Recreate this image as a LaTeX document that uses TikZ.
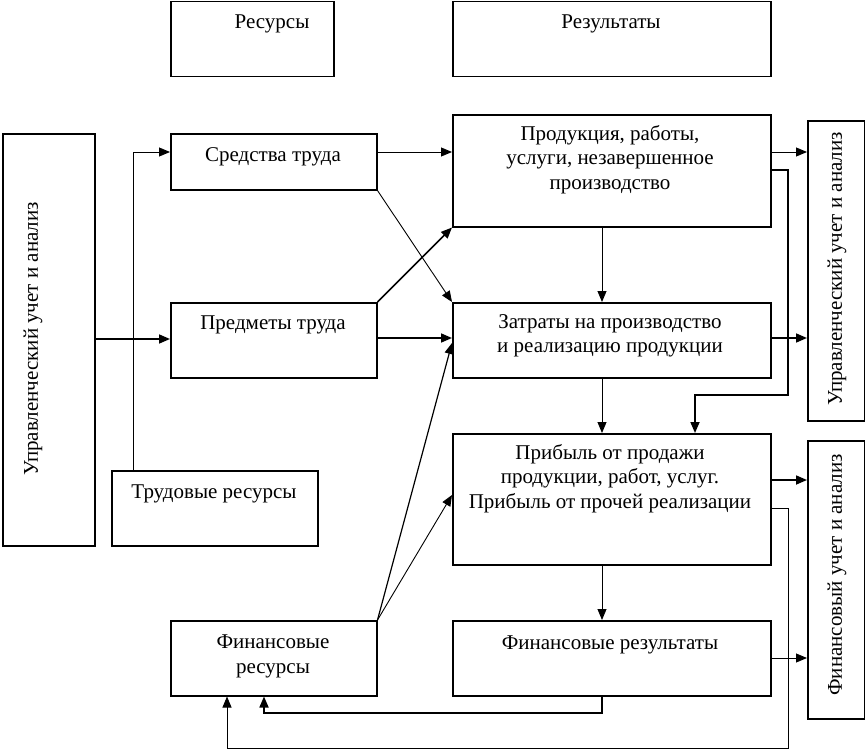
\documentclass[tikz,border=0pt]{standalone}
\usepackage{fontspec}
\setmainfont{Liberation Serif}
\usetikzlibrary{arrows.meta}
\begin{document}
\begin{tikzpicture}[x=1pt,y=-1pt,
  box/.style={draw,line width=1.5pt,inner sep=0pt,anchor=north west},
  txt/.style={font=\fontsize{21}{24.5}\selectfont,align=center,inner sep=0pt},
  thin/.style={line width=0.9pt,-{Triangle[length=11pt,width=9pt]}},
  thick/.style={line width=1.7pt,-{Triangle[length=11pt,width=9pt]}}]
\useasboundingbox (0,0) rectangle (865,752);
% boxes
\node[box,minimum width=163pt,minimum height=75pt] (res) at (170,1) {};
\node[box,minimum width=318pt,minimum height=75pt] (rez) at (452,1) {};
\node[box,minimum width=92pt,minimum height=412pt] (left) at (2,133) {};
\node[box,minimum width=206pt,minimum height=56pt] (sr) at (170,133) {};
\node[box,minimum width=206pt,minimum height=75pt] (pr) at (170,302) {};
\node[box,minimum width=206pt,minimum height=75pt] (tr) at (111,470) {};
\node[box,minimum width=206pt,minimum height=75pt] (fr) at (170,620) {};
\node[box,minimum width=318pt,minimum height=112pt] (prod) at (452,114) {};
\node[box,minimum width=318pt,minimum height=75pt] (zat) at (452,302) {};
\node[box,minimum width=318pt,minimum height=131pt] (prib) at (452,433) {};
\node[box,minimum width=318pt,minimum height=75pt] (finres) at (452,620) {};
\node[box,minimum width=57pt,minimum height=300pt] (rupr) at (807,120) {};
\node[box,minimum width=57pt,minimum height=278pt] (rfin) at (807,440) {};
% texts
\node[txt,anchor=base] (tres) at (272,29) {Ресурсы};
\node[txt,anchor=base] (trez) at (611,29) {Результаты};
\node[txt,anchor=base] (tsr) at (273,161) {Средства труда};
\node[txt,anchor=base] (tpr) at (273,329) {Предметы труда};
\node[txt,anchor=base] (ttr) at (214,498) {Трудовые ресурсы};
\node[txt,anchor=north] (tfr) at (273,635) {Финансовые\\ресурсы};
\node[txt,anchor=north] (tprod) at (610,125) {Продукция, работы,\\услуги, незавершенное\\производство};
\node[txt,anchor=north] (tzat) at (610,314) {Затраты на производство\\и реализацию продукции};
\node[txt,anchor=north] (tprib) at (610,444) {Прибыль от продажи\\продукции, работ, услуг.\\Прибыль от прочей реализации};
\node[txt,anchor=base] (tfinres) at (610,649) {Финансовые результаты};
\node[txt,rotate=90] (tleft) at (33,339) {Управленческий учет и анализ};
\node[txt,rotate=90] (trupr) at (837,269) {Управленческий учет и анализ};
\node[txt,rotate=90] (trfin) at (837,575) {Финансовый учет и анализ};
% coordinates
\coordinate (c1) at (133,152);
\coordinate (c2) at (788,170);
\coordinate (c3) at (788,395);
\coordinate (c4) at (695,395);
\coordinate (c5) at (788,508);
\coordinate (c6) at (788,748);
\coordinate (c7) at (227,748);
\coordinate (c8) at (602,713);
\coordinate (c9) at (264,713);
% connectors
\draw[thin] (tr.north -| c1) -- (c1) -- (sr.west |- c1);
\draw[thick] (left.east |- 0,339) -- (pr.west |- 0,339);
\draw[thin] (sr.east |- 0,152) -- (prod.west |- 0,152);
\draw[thin] (sr.south east) -- (zat.north west);
\draw[thick] (pr.north east) -- (prod.south west);
\draw[thick] (pr.east |- 0,338) -- (zat.west |- 0,338);
\draw[thin,line width=1.2pt] (fr.north east) -- (zat.west |- 0,343);
\draw[thin] (fr.north east) -- (prib.west |- 0,495);
\draw[thin] (prod.south -| 602,0) -- (zat.north -| 602,0);
\draw[thin] (zat.south -| 602,0) -- (prib.north -| 602,0);
\draw[thin] (prib.south -| 602,0) -- (finres.north -| 602,0);
\draw[thin] (prod.east |- 0,152) -- (rupr.west |- 0,152);
\draw[thick] (prod.east |- c2) -- (c2) -- (c3) -- (c4) -- (prib.north -| c4);
\draw[thick] (zat.east |- 0,338) -- (rupr.west |- 0,338);
\draw[thick] (prib.east |- 0,480) -- (rfin.west |- 0,480);
\draw[thin] (prib.east |- c5) -- (c5) -- (c6) -- (c7) -- (fr.south -| c7);
\draw[thin] (finres.east |- 0,658) -- (rfin.west |- 0,658);
\draw[thick] (finres.south -| c8) -- (c8) -- (c9) -- (fr.south -| c9);
\end{tikzpicture}
\end{document}
